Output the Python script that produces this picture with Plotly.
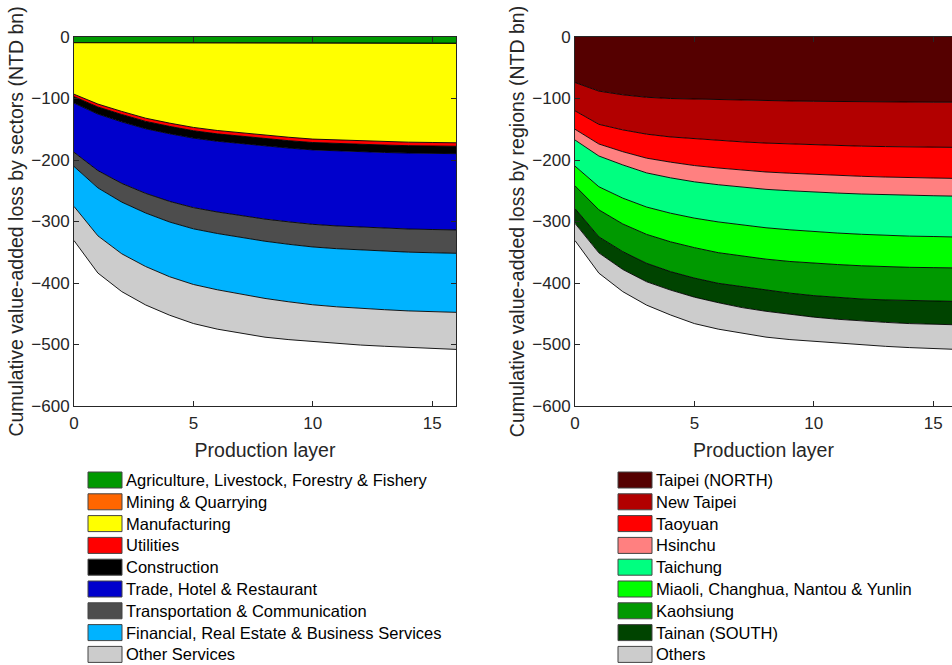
import plotly.graph_objects as go

# Production layers (cumulative)
layers = list(range(17))

# Value-added loss by sector (NTD bn) per production layer
sector_names = [
    "Agriculture, Livestock, Forestry & Fishery",
    "Mining & Quarrying",
    "Manufacturing",
    "Utilities",
    "Construction",
    "Trade, Hotel & Restaurant",
    "Transportation & Communication",
    "Financial, Real Estate & Business Services",
    "Other Services",
]
agriculture = [9.0, 9.0, 9.2, 9.3, 9.4, 9.5, 9.6, 9.6, 9.7, 9.7, 9.8, 9.8, 9.8, 9.9, 9.9, 9.9, 10.0]
mining = [0.3, 0.4, 0.4, 0.4, 0.4, 0.5, 0.5, 0.5, 0.5, 0.5, 0.5, 0.5, 0.5, 0.5, 0.5, 0.5, 0.5]
manufacturing = [83.7, 99.6, 111.4, 122.3, 130.2, 137.0, 141.9, 145.9, 149.8, 152.8, 155.7, 157.2, 158.7, 159.6, 160.6, 161.1, 161.5]
utilities = [4.0, 4.8, 5.0, 5.2, 5.3, 5.4, 5.5, 5.5, 5.6, 5.6, 5.6, 5.7, 5.7, 5.7, 5.7, 5.7, 5.7]
construction = [10.5, 11.5, 12.0, 12.0, 12.0, 12.0, 12.0, 12.0, 12.0, 12.0, 12.0, 12.0, 12.0, 12.0, 12.0, 12.0, 12.0]
trade = [80, 92, 100, 105, 110, 113, 115, 117, 118.5, 120, 121, 122, 122.5, 123, 123.5, 123.8, 124]
transport = [23, 28, 30.5, 32, 33.5, 34.5, 35, 35.5, 36, 36.5, 36.8, 37, 37.2, 37.4, 37.6, 37.8, 38]
financial = [65, 78, 84, 87, 89, 90.5, 91.5, 92.5, 93, 93.5, 94, 94.5, 95, 95.3, 95.6, 95.8, 96]
other_services = [55.5, 60.5, 61.5, 62.5, 62.5, 63.5, 64, 63.5, 63, 61.5, 60, 59.5, 59.5, 59.5, 59.5, 59.5, 60.3]
sector_colors = ["#009900", "#FF6600", "#FFFF00", "#FF0000", "#000000",
                 "#0000CC", "#4D4D4D", "#00B3FF", "#CCCCCC"]

# Value-added loss by region (NTD bn) per production layer
region_names = [
    "Taipei (NORTH)",
    "New Taipei",
    "Taoyuan",
    "Hsinchu",
    "Taichung",
    "Miaoli, Changhua, Nantou & Yunlin",
    "Kaohsiung",
    "Tainan (SOUTH)",
    "Others",
]
taipei = [74, 88, 94, 98, 100, 101, 102, 103, 103.5, 104, 104.5, 105, 105.5, 105.7, 106, 106, 106]
new_taipei = [46, 54, 57, 60, 62.5, 64.5, 66, 67.5, 69, 70, 71, 71.5, 72, 72.5, 73, 73, 73.5]
taoyuan = [30, 32, 35.5, 39, 41, 43.5, 45, 46, 47, 47.5, 48, 48.5, 49, 49.5, 50, 50.3, 50.5]
hsinchu = [17.5, 19.5, 21.5, 24, 25.5, 26.5, 27.2, 27.8, 28.2, 28.5, 28.7, 28.8, 28.8, 28.8, 28.8, 28.8, 28.8]
taichung = [42.5, 50, 54, 55.5, 57.5, 59, 60.5, 61.5, 62.5, 63.5, 64.5, 65, 65.5, 66, 66, 66.3, 66.5]
miaoli_etc = [32, 37.5, 42, 44.5, 46.5, 48, 50, 50, 51, 51.5, 51.3, 51.2, 51.2, 51, 50.7, 50.6, 50.2]
kaohsiung = [37, 44, 45, 47, 48.5, 49.5, 49.8, 50.2, 50.8, 51.5, 52.5, 53.5, 54, 54, 54, 54.5, 54.5]
tainan = [24, 26, 29, 30, 30, 31, 31.5, 34, 34, 34.5, 35, 35.5, 36, 36.5, 37.5, 37.5, 38]
other_regions = [28, 33, 36, 38, 40.5, 43, 43, 42, 42, 41, 39.5, 39, 39, 39, 39, 39, 40]
region_colors = ["#550000", "#B20000", "#FF0000", "#FF8080", "#00FF80",
                 "#00FF00", "#009900", "#004400", "#CCCCCC"]

y_ticks = [0, -100, -200, -300, -400, -500, -600]
x_ticks = [0, 5, 10, 15]

sector_series = [agriculture, mining, manufacturing, utilities, construction,
                 trade, transport, financial, other_services]
region_series = [taipei, new_taipei, taoyuan, hsinchu, taichung,
                 miaoli_etc, kaohsiung, tainan, other_regions]

W, H = 952, 665
fig = go.Figure()

for name, vals, col in zip(sector_names, sector_series, sector_colors):
    fig.add_trace(go.Scatter(
        x=layers, y=[-v for v in vals], name=name, mode="lines",
        stackgroup="sectors", fillcolor=col,
        line=dict(color="black", width=0.9), showlegend=False,
        xaxis="x", yaxis="y"))

for name, vals, col in zip(region_names, region_series, region_colors):
    fig.add_trace(go.Scatter(
        x=layers, y=[-v for v in vals], name=name, mode="lines",
        stackgroup="regions", fillcolor=col,
        line=dict(color="black", width=0.9), showlegend=False,
        xaxis="x2", yaxis="y2"))

FONT = "Liberation Sans, Arial, sans-serif"
axis_font = dict(family=FONT, size=17, color="#262626")
title_font = dict(family=FONT, size=19.5, color="#262626")

common_x = dict(tickvals=x_ticks, ticks="inside", ticklen=5, tickcolor="#262626",
                showline=True, linecolor="#262626", linewidth=1,
                showgrid=False, zeroline=False, tickfont=axis_font, automargin=False,
                ticklabelstandoff=2,
                title=dict(text="Production layer", font=title_font, standoff=10))
common_y = dict(range=[-600, 0], tickvals=y_ticks, ticks="inside", ticklen=5,
                tickcolor="#262626", showline=True, linecolor="#262626", linewidth=1,
                showgrid=False, zeroline=False, tickfont=axis_font, automargin=False)

fig.update_layout(
    width=W, height=H,
    margin=dict(l=0, r=0, t=0, b=0),
    plot_bgcolor="white", paper_bgcolor="white",
    xaxis=dict(domain=[74 / W, 456 / W], range=[0, 16], mirror="ticks",
               anchor="y", **common_x),
    yaxis=dict(domain=[1 - 406 / H, 1 - 37 / H], mirror="ticks", anchor="x",
               title=dict(text="Cumulative value-added loss by sectors (NTD bn)",
                          font=title_font, standoff=2),
               **common_y),
    xaxis2=dict(domain=[575 / W, 1.0], range=[0, 16 * 377 / 382], mirror="ticks",
                anchor="y2", **common_x),
    yaxis2=dict(domain=[1 - 406 / H, 1 - 37 / H], anchor="x2",
                title=dict(text="Cumulative value-added loss by regions (NTD bn)",
                           font=title_font, standoff=2),
                **common_y),
)

# Legends below each panel: framed colour swatches with labels
legend_font = dict(family=FONT, size=16.5, color="black")
row_top, row_step = 480, 21.8
for names, colors, sx in ((sector_names, sector_colors, 88),
                          (region_names, region_colors, 618)):
    for i, (name, col) in enumerate(zip(names, colors)):
        cy = row_top + i * row_step
        fig.add_shape(type="rect", xref="paper", yref="paper",
                      x0=sx / W, x1=(sx + 34) / W,
                      y0=1 - (cy + 8) / H, y1=1 - (cy - 8) / H,
                      fillcolor=col, line=dict(color="#444444", width=1))
        fig.add_annotation(xref="paper", yref="paper", x=(sx + 36) / W,
                           y=1 - cy / H, text=name, showarrow=False,
                           xanchor="left", yanchor="middle", font=legend_font)

fig.write_html("out.html")
